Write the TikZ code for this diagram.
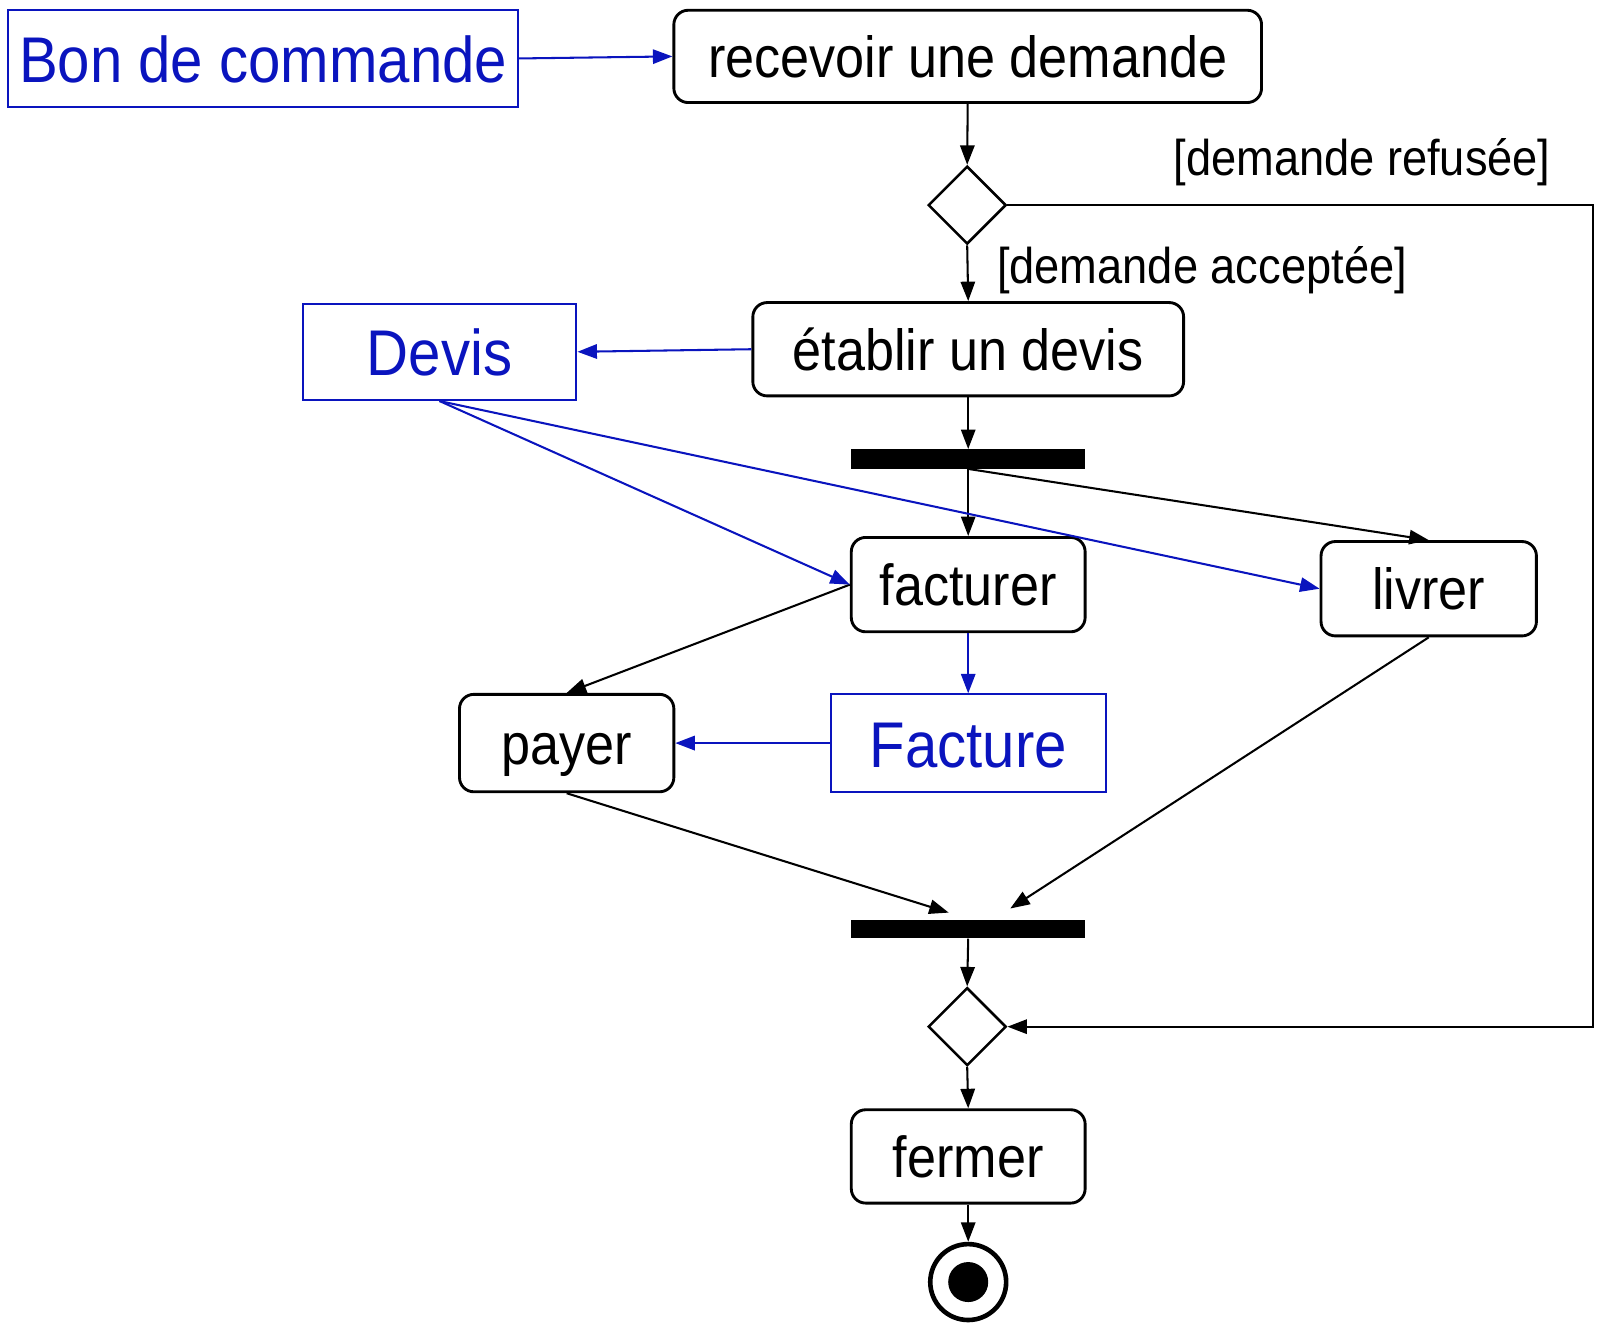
\documentclass[tikz,border=0pt]{standalone}
\usepackage{fontspec}
\setmainfont{Liberation Sans}[FakeStretch=0.9]
\usetikzlibrary{arrows.meta,shapes.geometric,calc}
\definecolor{umlblue}{RGB}{10,20,190}
\begin{document}
\begin{tikzpicture}[x=1bp,y=-1bp,
  act/.style={draw, line width=2.8bp, rounded corners=14bp, minimum width=#1, minimum height=91bp, inner sep=0pt, text height=41bp, text depth=0pt, font=\fontsize{56.5bp}{60bp}\selectfont},
  obj/.style={draw=umlblue, text=umlblue, line width=2bp, minimum width=#1, minimum height=94bp, inner sep=0pt, text height=47bp, text depth=0pt, font=\fontsize{63bp}{66bp}\selectfont},
  barre/.style={fill=black, draw=none, minimum width=228bp, minimum height=19bp, inner sep=0pt},
  choix/.style={diamond, draw, line width=2.5bp, minimum width=76bp, minimum height=76bp, inner sep=0pt},
  garde/.style={font=\fontsize{49bp}{52bp}\selectfont, inner sep=0pt},
  arr/.style={-{Triangle[length=19bp,width=14bp]}, line width=2bp},
  barr/.style={arr, draw=umlblue, fill=umlblue}
]
\useasboundingbox (0,0) rectangle (1567.8,1300.5);

% nodes
\node[obj=497bp] (bon) at (256.5,57) {Bon de commande};
\node[act=573bp, minimum height=90bp] (rec) at (943.5,55) {recevoir une demande};
\node[choix] (d1) at (943,200) {};
\node[act=420bp] (eta) at (944,340.5) {établir un devis};
\node[obj=267bp] (devis) at (428.5,343) {Devis};
\node[barre] (b1) at (944,447.5) {};
\node[act=228bp, minimum height=92bp] (fact) at (944,570) {facturer};
\node[act=210bp, minimum height=92bp] (liv) at (1393,574) {livrer};
\node[act=209bp, minimum height=95bp] (pay) at (552.5,724.5) {payer};
\node[obj=268bp, minimum height=95bp] (facture) at (944,724.5) {Facture};
\node[barre, minimum height=18bp] (b2) at (944,906) {};
\node[choix] (d2) at (943,1001) {};
\node[act=228bp] (ferm) at (944,1127.5) {fermer};
\node[circle, draw, line width=4.5bp, minimum size=74bp, inner sep=0pt] (fin) at (944,1250) {};
\node[circle, fill=black, minimum size=39bp, inner sep=0pt] (finin) at (fin.center) {};

% guards
\node[garde] (lref) at (1328,158) {[demande refusée]};
\node[garde] (lacc) at (1172,263) {[demande acceptée]};

% coordinates for free ends on join bar
\coordinate (j1) at ($(b2.north)+(-19,-7)$);
\coordinate (j2) at ($(b2.north)+(41,-11)$);

% control flow
\draw[arr] (rec.south) -- (d1.north);
\draw[arr] (d1.south) -- (eta.north);
\draw[arr] (d1.east) -- ++(571,0) |- (d2.east);
\draw[arr] (eta.south) -- (b1.north);
\draw[arr] (b1.south) -- (fact.north);
\draw[arr] (b1.south) -- (liv.north);
\draw[arr] (fact.west) -- (pay.north);
\draw[arr] (pay.south) -- (j1);
\draw[arr] (liv.south) -- (j2);
\draw[arr] (b2.south) -- (d2.north);
\draw[arr] (d2.south) -- (ferm.north);
\draw[arr] (ferm.south) -- (fin.north);

% object flow
\draw[barr] (bon.east) -- (rec.west);
\draw[barr] (eta.west) -- (devis.east);
\draw[barr] (devis.south) -- (fact.west);
\draw[barr] (devis.south) -- (liv.west);
\draw[barr] (fact.south) -- (facture.north);
\draw[barr] (facture.west) -- (pay.east);
\end{tikzpicture}
\end{document}
